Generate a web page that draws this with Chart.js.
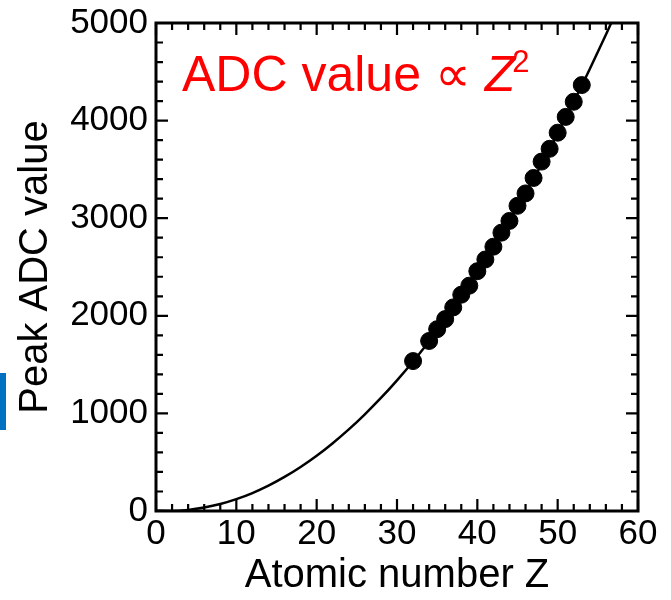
<!DOCTYPE html>
<html>
<head>
<meta charset="utf-8">
<script src="https://cdn.jsdelivr.net/npm/chart.js@4.4.0/dist/chart.umd.min.js"></script>
<style>
  html, body { margin: 0; padding: 0; background: #fff; }
  #wrap { width: 671px; height: 600px; }
</style>
</head>
<body>
<div id="wrap"><canvas id="myChart" width="671" height="600"></canvas></div>
<script>
// measured points (atomic number vs peak ADC)
const atomicZ = [32, 34, 35, 36, 37, 38, 39, 40, 41, 42, 43, 44, 45, 46, 47, 48, 49, 50, 51, 52, 53];
const peakAdc = [1536, 1742, 1863, 1966, 2086, 2216, 2309, 2457, 2577, 2708, 2852, 2972, 3127, 3254, 3412, 3580, 3711, 3876, 4038, 4193, 4364];

// fit curve
const fitZ = [0, 2, 4, 6, 8, 10, 12, 14, 16, 18, 20, 22, 24, 26, 28, 30, 32, 34, 36, 38, 40, 42, 44, 46, 48, 50, 52, 54, 56, 57];
const fitAdc = [3, 1, 11, 35, 71, 121, 184, 260, 349, 451, 566, 695, 836, 991, 1158, 1339, 1532, 1740, 1959, 2192, 2439, 2698, 2970, 3256, 3554, 3866, 4191, 4528, 4880, 5060];

const xMajor = [0, 10, 20, 30, 40, 50, 60];
const xMinor = [2, 4, 6, 8, 12, 14, 16, 18, 22, 24, 26, 28, 32, 34, 36, 38, 42, 44, 46, 48, 52, 54, 56, 58];
const yMajor = [0, 1000, 2000, 3000, 4000, 5000];
const yMinor = [200, 400, 600, 800, 1200, 1400, 1600, 1800, 2200, 2400, 2600, 2800, 3200, 3400, 3600, 3800, 4200, 4400, 4600, 4800];

const FONT = "'Liberation Sans', Arial, sans-serif";

// inward ticks on all four sides + frame
const frameTicks = {
    id: "frameTicks",
    afterDatasetsDraw(chart) {
        const { ctx, chartArea: { left, right, top, bottom }, scales: { x, y } } = chart;
        ctx.save();
        ctx.strokeStyle = "#000";
        ctx.lineWidth = 2.2;
        ctx.beginPath();
        const tick = (arr, len, horiz) => {
            arr.forEach(v => {
                if (horiz) {
                    const px = x.getPixelForValue(v);
                    ctx.moveTo(px, bottom); ctx.lineTo(px, bottom - len);
                    ctx.moveTo(px, top); ctx.lineTo(px, top + len);
                } else {
                    const py = y.getPixelForValue(v);
                    ctx.moveTo(left, py); ctx.lineTo(left + len, py);
                    ctx.moveTo(right, py); ctx.lineTo(right - len, py);
                }
            });
        };
        tick(xMajor, 12, true);
        tick(xMinor, 7, true);
        tick(yMajor, 12, false);
        tick(yMinor, 7, false);
        ctx.stroke();
        ctx.lineWidth = 3;
        ctx.strokeRect(left, top, right - left, bottom - top);
        ctx.restore();
    }
};

// red annotation and blue side mark
const labels = {
    id: "labels",
    afterDraw(chart) {
        const { ctx } = chart;
        ctx.save();
        ctx.fillStyle = "#0070C0";
        ctx.fillRect(0, 373, 6, 57);
        ctx.fillStyle = "#FF0000";
        ctx.textBaseline = "alphabetic";
        ctx.font = "50px " + FONT;
        let xPos = 182;
        const base = 91;
        const t1 = "ADC value \u221D ";
        ctx.fillText(t1, xPos, base);
        xPos += ctx.measureText(t1).width;
        ctx.font = "italic 50px " + FONT;
        ctx.fillText("Z", xPos, base);
        xPos += ctx.measureText("Z").width;
        ctx.font = "31px " + FONT;
        ctx.fillText("2", xPos - 3, base - 19);
        ctx.restore();
    }
};

const ctx = document.getElementById('myChart');
new Chart(ctx, {
    type: 'scatter',
    data: {
        datasets: [
            {
                type: 'line',
                label: "fit",
                data: fitZ.map((z, i) => ({ x: z, y: fitAdc[i] })),
                borderColor: "#000",
                borderWidth: 2.5,
                pointRadius: 0,
                cubicInterpolationMode: 'monotone',
                fill: false
            },
            {
                label: "Peak ADC",
                data: atomicZ.map((z, i) => ({ x: z, y: peakAdc[i] })),
                backgroundColor: "#000",
                borderColor: "#000",
                pointRadius: 8.5,
                pointHoverRadius: 8.5
            }
        ]
    },
    options: {
        responsive: false,
        animation: false,
        events: [],
        layout: { padding: { top: 23, right: 33, left: 0, bottom: 0 } },
        plugins: { legend: { display: false }, tooltip: { enabled: false } },
        scales: {
            x: {
                type: 'linear',
                min: 0,
                max: 60,
                grid: { display: false, drawTicks: false },
                border: { display: false },
                ticks: {
                    stepSize: 10,
                    color: "#000",
                    padding: 2,
                    font: { family: FONT, size: 35 },
                    callback: (v) => String(v)
                },
                title: {
                    display: true,
                    text: "Atomic number Z",
                    color: "#000",
                    font: { family: FONT, size: 40 },
                    padding: { top: 0, bottom: 0 }
                },
                afterFit: (scale) => {
                    scale.height = 89;
                    scale.paddingLeft = 0;
                    scale.paddingRight = 0;
                }
            },
            y: {
                type: 'linear',
                min: 0,
                max: 5000,
                grid: { display: false, drawTicks: false },
                border: { display: false },
                ticks: {
                    stepSize: 1000,
                    color: "#000",
                    padding: 8,
                    font: { family: FONT, size: 35 },
                    callback: (v) => String(v)
                },
                title: {
                    display: true,
                    text: "Peak ADC value",
                    color: "#000",
                    font: { family: FONT, size: 40 },
                    padding: { top: 12, bottom: 0 }
                },
                afterFit: (scale) => {
                    scale.width = 156;
                    scale.paddingTop = 0;
                    scale.paddingBottom = 0;
                }
            }
        }
    },
    plugins: [frameTicks, labels]
});
</script>
</body>
</html>
